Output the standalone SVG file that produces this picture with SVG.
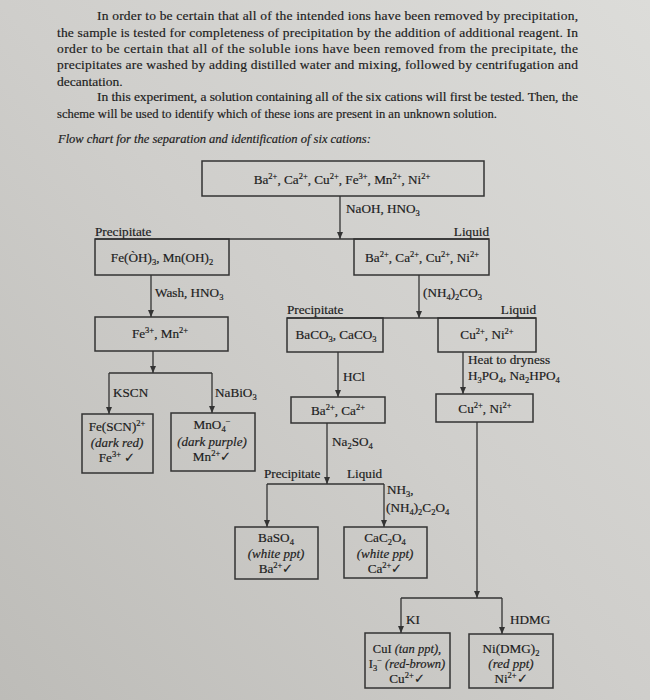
<svg xmlns="http://www.w3.org/2000/svg" width="650" height="700" viewBox="0 0 650 700">
<defs>
<linearGradient id="bg" x1="1" y1="0" x2="0" y2="1">
<stop offset="0" stop-color="#dcdcd9"/>
<stop offset="0.5" stop-color="#cfcecb"/>
<stop offset="1" stop-color="#bdbcb8"/>
</linearGradient>
<marker id="ah" markerUnits="userSpaceOnUse" markerWidth="8" markerHeight="7" refX="7" refY="3" orient="auto">
<path d="M0,0 L7,3 L0,6 z" fill="#333"/>
</marker>
<style>
text{font-family:"Liberation Serif","Times New Roman",serif;fill:#1c1c1c;stroke:#1c1c1c;stroke-width:0.18}
.p{font-size:13.5px}
.b{font-size:13.2px}
.i{font-style:italic}
.s{font-size:8.5px}
.box{fill:none;stroke:#333;stroke-width:1.5}
.ln{stroke:#333;stroke-width:1.3;fill:none}
.ar{stroke:#333;stroke-width:1.3;fill:none;marker-end:url(#ah)}
</style>
</defs>
<rect width="650" height="700" fill="url(#bg)"/>

<g id="intro">
<text class="p" x="97" y="20" textLength="481" lengthAdjust="spacing">In order to be certain that all of the intended ions have been removed by precipitation,</text>
<text class="p" x="57" y="37" textLength="521" lengthAdjust="spacing">the sample is tested for completeness of precipitation by the addition of additional reagent. In</text>
<text class="p" x="57" y="53" textLength="521" lengthAdjust="spacing">order to be certain that all of the soluble ions have been removed from the precipitate, the</text>
<text class="p" x="57" y="69" textLength="521" lengthAdjust="spacing">precipitates are washed by adding distilled water and mixing, followed by centrifugation and</text>
<text class="p" x="57" y="86">decantation.</text>
<text class="p" x="97" y="101" textLength="481" lengthAdjust="spacing">In this experiment, a solution containing all of the six cations will first be tested. Then, the</text>
<text class="p" x="57" y="118" textLength="440" lengthAdjust="spacingAndGlyphs">scheme will be used to identify which of these ions are present in an unknown solution.</text>
<text class="p i" x="58" y="143" style="font-size:12.5px">Flow chart for the separation and identification of six cations:</text>
</g>

<g id="connectors">
<line class="ar" x1="340" y1="196" x2="340" y2="239"/>
<line class="ln" x1="95" y1="239" x2="489" y2="239"/>
<line class="ar" x1="151" y1="275" x2="151" y2="317"/>
<line class="ar" x1="419" y1="275" x2="419" y2="318"/>
<line class="ln" x1="287" y1="318" x2="536" y2="318"/>
<line class="ar" x1="338" y1="352" x2="338" y2="397"/>
<line class="ar" x1="463" y1="352" x2="463" y2="394"/>
<line class="ar" x1="153" y1="351" x2="153" y2="373"/>
<line class="ln" x1="109" y1="373" x2="212" y2="373"/>
<line class="ar" x1="109" y1="373" x2="109" y2="414"/>
<line class="ar" x1="212" y1="373" x2="212" y2="413"/>
<line class="ar" x1="327" y1="423" x2="327" y2="484"/>
<line class="ln" x1="267" y1="484" x2="384" y2="484"/>
<line class="ar" x1="267" y1="484" x2="267" y2="527"/>
<line class="ar" x1="384" y1="484" x2="384" y2="527"/>
<line class="ar" x1="477" y1="422" x2="477" y2="598"/>
<line class="ln" x1="401" y1="598" x2="502" y2="598"/>
<line class="ar" x1="401" y1="598" x2="401" y2="633"/>
<line class="ar" x1="502" y1="598" x2="502" y2="634"/>
</g>

<g id="labels">
<text class="b" x="346" y="213">NaOH, HNO<tspan class="s" dy="3">3</tspan></text>
<text class="b" x="95" y="236">Precipitate</text>
<text class="b" x="489" y="236" text-anchor="end">Liquid</text>
<text class="b" x="155" y="297">Wash, HNO<tspan class="s" dy="3">3</tspan></text>
<text class="b" x="423" y="297">(NH<tspan class="s" dy="3">4</tspan><tspan dy="-3">)</tspan><tspan class="s" dy="3">2</tspan><tspan dy="-3">CO</tspan><tspan class="s" dy="3">3</tspan></text>
<text class="b" x="287" y="314">Precipitate</text>
<text class="b" x="536" y="314" text-anchor="end">Liquid</text>
<text class="b" x="343" y="381">HCl</text>
<text class="b" x="468" y="364">Heat to dryness</text>
<text class="b" x="468" y="380">H<tspan class="s" dy="3">3</tspan><tspan dy="-3">PO</tspan><tspan class="s" dy="3">4</tspan><tspan dy="-3">, Na</tspan><tspan class="s" dy="3">2</tspan><tspan dy="-3">HPO</tspan><tspan class="s" dy="3">4</tspan></text>
<text class="b" x="113" y="397">KSCN</text>
<text class="b" x="215" y="397">NaBiO<tspan class="s" dy="3">3</tspan></text>
<text class="b" x="332" y="446">Na<tspan class="s" dy="3">2</tspan><tspan dy="-3">SO</tspan><tspan class="s" dy="3">4</tspan></text>
<text class="b" x="264" y="478">Precipitate</text>
<text class="b" x="347" y="478">Liquid</text>
<text class="b" x="387" y="494">NH<tspan class="s" dy="2.5">3</tspan><tspan dy="-2.5">,</tspan></text>
<text class="b" x="386" y="512">(NH<tspan class="s" dy="3">4</tspan><tspan dy="-3">)</tspan><tspan class="s" dy="3">2</tspan><tspan dy="-3">C</tspan><tspan class="s" dy="3">2</tspan><tspan dy="-3">O</tspan><tspan class="s" dy="3">4</tspan></text>
<text class="b" x="406" y="624">KI</text>
<text class="b" x="510" y="624">HDMG</text>
</g>

<g id="n-start">
<rect class="box" x="202" y="161" width="282" height="35"/>
<text class="b" x="342" y="184" text-anchor="middle">Ba<tspan class="s" dy="-5">2+</tspan><tspan dy="5">, Ca</tspan><tspan class="s" dy="-5">2+</tspan><tspan dy="5">, Cu</tspan><tspan class="s" dy="-5">2+</tspan><tspan dy="5">, Fe</tspan><tspan class="s" dy="-5">3+</tspan><tspan dy="5">, Mn</tspan><tspan class="s" dy="-5">2+</tspan><tspan dy="5">, Ni</tspan><tspan class="s" dy="-5">2+</tspan></text>
</g>

<g id="n-hydroxides">
<rect class="box" x="95" y="239" width="134" height="36"/>
<text class="b" x="162" y="262" text-anchor="middle">Fe(ÒH)<tspan class="s" dy="3">3</tspan><tspan dy="-3">, Mn(OH)</tspan><tspan class="s" dy="3">2</tspan></text>
</g>

<g id="n-liquid1">
<rect class="box" x="354" y="239" width="135" height="36"/>
<text class="b" x="422" y="262" text-anchor="middle">Ba<tspan class="s" dy="-5">2+</tspan><tspan dy="5">, Ca</tspan><tspan class="s" dy="-5">2+</tspan><tspan dy="5">, Cu</tspan><tspan class="s" dy="-5">2+</tspan><tspan dy="5">, Ni</tspan><tspan class="s" dy="-5">2+</tspan></text>
</g>

<g id="n-femn">
<rect class="box" x="95" y="317" width="133" height="34"/>
<text class="b" x="160" y="338" text-anchor="middle">Fe<tspan class="s" dy="-5">3+</tspan><tspan dy="5">, Mn</tspan><tspan class="s" dy="-5">2+</tspan></text>
</g>

<g id="n-carbonates">
<rect class="box" x="287" y="318" width="96" height="34"/>
<text class="b" x="336" y="339" text-anchor="middle">BaCO<tspan class="s" dy="3">3</tspan><tspan dy="-3">, CaCO</tspan><tspan class="s" dy="3">3</tspan></text>
</g>

<g id="n-cuni1">
<rect class="box" x="438" y="318" width="98" height="34"/>
<text class="b" x="487" y="339" text-anchor="middle">Cu<tspan class="s" dy="-5">2+</tspan><tspan dy="5">, Ni</tspan><tspan class="s" dy="-5">2+</tspan></text>
</g>

<g id="n-baca">
<rect class="box" x="291" y="397" width="94" height="26"/>
<text class="b" x="338" y="415" text-anchor="middle">Ba<tspan class="s" dy="-5">2+</tspan><tspan dy="5">, Ca</tspan><tspan class="s" dy="-5">2+</tspan></text>
</g>

<g id="n-cuni2">
<rect class="box" x="436" y="394" width="97" height="28"/>
<text class="b" x="485" y="413" text-anchor="middle">Cu<tspan class="s" dy="-5">2+</tspan><tspan dy="5">, Ni</tspan><tspan class="s" dy="-5">2+</tspan></text>
</g>

<g id="n-fescn">
<rect class="box" x="82" y="414" width="71" height="59"/>
<text class="b" x="117" y="431" text-anchor="middle">Fe(SCN)<tspan class="s" dy="-5">2+</tspan></text>
<text class="b i" x="117" y="447" text-anchor="middle" style="font-size:13px">(dark red)</text>
<text class="b" x="117" y="462" text-anchor="middle">Fe<tspan class="s" dy="-5">3+</tspan><tspan dy="5"> ✓</tspan></text>
</g>

<g id="n-mno4">
<rect class="box" x="171" y="413" width="84" height="58"/>
<text class="b" x="212" y="429" text-anchor="middle">MnO<tspan class="s" dy="2.5">4</tspan><tspan class="s" dy="-7.5">−</tspan></text>
<text class="b i" x="212" y="446" text-anchor="middle" style="font-size:13px">(dark purple)</text>
<text class="b" x="212" y="461" text-anchor="middle">Mn<tspan class="s" dy="-5">2+</tspan><tspan dy="5">✓</tspan></text>
</g>

<g id="n-baso4">
<rect class="box" x="235" y="527" width="83" height="52"/>
<text class="b" x="276" y="542" text-anchor="middle">BaSO<tspan class="s" dy="2.5">4</tspan></text>
<text class="b i" x="276" y="558" text-anchor="middle" style="font-size:13px">(white ppt)</text>
<text class="b" x="276" y="573" text-anchor="middle">Ba<tspan class="s" dy="-5">2+</tspan><tspan dy="5">✓</tspan></text>
</g>

<g id="n-cac2o4">
<rect class="box" x="344" y="527" width="83" height="51"/>
<text class="b" x="385" y="542" text-anchor="middle">CaC<tspan class="s" dy="2.5">2</tspan><tspan dy="-2.5">O</tspan><tspan class="s" dy="2.5">4</tspan></text>
<text class="b i" x="385" y="558" text-anchor="middle" style="font-size:13px">(white ppt)</text>
<text class="b" x="385" y="573" text-anchor="middle">Ca<tspan class="s" dy="-5">2+</tspan><tspan dy="5">✓</tspan></text>
</g>

<g id="n-cui">
<rect class="box" x="365" y="633" width="85" height="55"/>
<text class="b" x="407" y="653" text-anchor="middle" style="font-size:12.5px">CuI <tspan class="i">(tan ppt),</tspan></text>
<text class="b" x="407" y="668" text-anchor="middle" style="font-size:12.5px">I<tspan class="s" dy="2.5">3</tspan><tspan class="s" dy="-7.5">−</tspan><tspan dy="5"> </tspan><tspan class="i">(red-brown)</tspan></text>
<text class="b" x="407" y="683" text-anchor="middle">Cu<tspan class="s" dy="-5">2+</tspan><tspan dy="5">✓</tspan></text>
</g>

<g id="n-nidmg">
<rect class="box" x="469" y="634" width="84" height="54"/>
<text class="b" x="511" y="653" text-anchor="middle">Ni(DMG)<tspan class="s" dy="2.5">2</tspan></text>
<text class="b i" x="511" y="668" text-anchor="middle" style="font-size:13px">(red ppt)</text>
<text class="b" x="511" y="683" text-anchor="middle">Ni<tspan class="s" dy="-5">2+</tspan><tspan dy="5">✓</tspan></text>
</g>
</svg>
